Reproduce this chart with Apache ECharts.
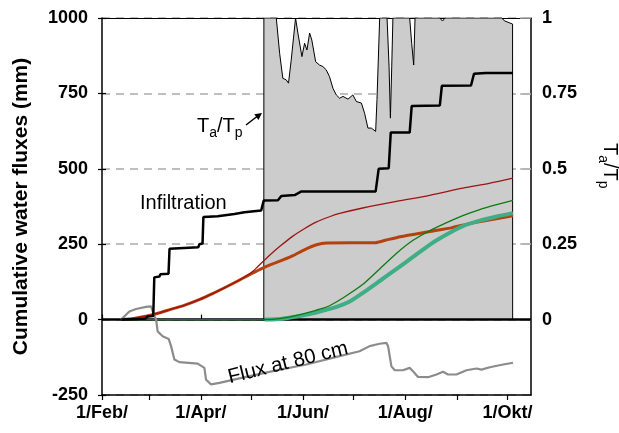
<!DOCTYPE html>
<html><head><meta charset="utf-8">
<script src="https://cdn.jsdelivr.net/npm/echarts@6.0.0/dist/echarts.min.js"></script>
<style>html,body{margin:0;padding:0;background:#fff}#c{width:619px;height:433px}</style>
</head><body><div id="c"></div>
<script>
// ---------- data (x = day of year, Jan 1 = 0) ----------
const monthTickDays = [31, 59, 90, 120, 151, 181, 212, 243, 273];
const labelDays = [31, 90, 151, 212, 273];
const labelTexts = ['1/Feb/', '1/Apr/', '1/Jun/', '1/Aug/', '1/Okt/'];

const infilDays = [42.5,56.9,58.1,61.6,62.2,65.3,65.8,70.7,71.3,88.5,89.1,91.0,91.5,100,110,116,126,127.1,127.5,136,138,146,150,194.3,196.1,202.1,203.3,214.6,215.8,232.6,233.8,251.2,253,260,276.2];
const infilMm   = [0,3,10,12,140,143,150,152,235,240,250,252,340,343,350,356,362,362,395,396,410,413,425,425,500,502,620,620,708,710,775,776,815,818,818];

const eaDays = [42.5,50,58,65,72,80,89,97,105,112,118,125,132,139,145,152,159,165,194,200,209,226.5,240,250,262,276.2];
const eaMm   = [0,4,12,22,34,47,66,86,108,128,146,166,183,198,212,232,248,254,255,263,275,292,305,318,330,344];

const epDays = [42.5,50,58,65,72,80,89,97,105,112,118,121,124,127.4,132,137,144.7,152,158.8,166.8,172.8,186.6,206.7,226.5,246.3,262,276.2];
const epMm   = [0,4,12,22,34,47,66,86,108,128,148,160,176,194,218,242,276,302,323,341,352,370,392,412,436,452,469];

const tpDays = [42.5,128,137,145.9,154.9,162.6,166.8,175.7,186.5,196.7,206.8,216.4,228.4,246.3,256.4,266.5,276.2];
const tpMm   = [0,0,3,12,25,37,46,75,116,168,220,262,300,345,365,381,395];

const taDays = [128,138.7,147.1,154.9,162.6,171,178.8,186.5,196.7,206.8,216.4,226.5,236.6,246.3,256.4,266.5,276.2];
const taMm   = [0,3,10,18,29,42,60,88,128,168,207,248,282,310,328,342,353];

const fluxDays = [42.4,47.3,51.3,57.3,60.3,62.3,63.3,64.2,67.2,70.8,72.2,74.2,77.2,88.1,92.1,93.1,96.1,101.1,113.0,132.9,152.9,172.8,184.7,190.7,196.7,200.7,201.7,203.7,205.7,210.6,214.6,216.6,219.6,225.6,230.6,234.5,237.5,242.5,248.5,254.5,257.5,262.4,270.4,276.3];
const fluxMm   = [0,27,35,42,44,11,0,-39,-55,-64,-88,-132,-141,-146,-160,-199,-215,-210,-195,-171,-149,-121,-105,-88,-80,-77,-88,-155,-168,-168,-160,-171,-190,-191,-182,-173,-182,-182,-168,-162,-166,-158,-149,-143];

const ratioDays = [127.55,127.6,135.0,137.0,138.9,140.9,142.3,143.9,146.5,147.9,150.3,151.9,153.3,154.9,156.2,158.5,160.8,162.8,164.8,166.8,168.8,170.8,172.8,174.8,177.8,180.7,182.8,185.8,187.7,189.7,191.7,194.3,195.1,196.7,201.1,202.3,203.1,203.9,204.6,214.6,215.8,217.0,217.8,232.5,234.2,235.7,269.4,271.4,276.0,276.05];
const ratioVals = [0,1,1,0.883,0.80,0.795,0.784,0.86,1.0,0.95,0.872,0.916,0.894,0.95,0.927,0.855,0.844,0.839,0.828,0.805,0.767,0.745,0.734,0.74,0.731,0.745,0.723,0.718,0.684,0.635,0.635,0.624,0.73,1.0,1.0,0.84,0.668,0.84,1.0,1.0,0.916,0.844,1.0,1.0,0.99,1.0,1.0,0.99,0.98,0];

const leftTicks = [-250, 0, 250, 500, 750, 1000];
const rightTicks = [0, 0.25, 0.5, 0.75, 1];

// ---------- chart ----------
const FONT = '"Liberation Sans", Arial, Helvetica, sans-serif';
const zip = (xs, ys) => xs.map((x, i) => [x, ys[i]]);
const chart = echarts.init(document.getElementById('c'), null, {renderer: 'canvas'});

const mctx = document.createElement('canvas').getContext('2d');
function textW(t, size) { mctx.font = size + 'px ' + FONT; return mctx.measureText(t).width; }
// parts: [text, isSub]; local origin = left / cap-top of main text
function subGroup(parts, x, y, rotation, mainSize, subSize) {
  const children = [];
  let cx = 0;
  const yc = mainSize * 0.365;
  parts.forEach(([t, sub]) => {
    const fs = sub ? subSize : mainSize;
    children.push({type: 'text', x: cx, y: sub ? yc + mainSize * 0.32 : yc,
      style: {text: t, fontSize: fs, fontFamily: FONT, fill: '#000', align: 'left', verticalAlign: 'middle'}});
    cx += textW(t, fs);
  });
  return {type: 'group', x: x, y: y, rotation: rotation || 0, children: children, z: 100};
}

const axisFont = {fontFamily: FONT, fontWeight: 'bold', fontSize: 18, color: '#000'};

const option = {
  animation: false,
  backgroundColor: '#fff',
  grid: {left: 102, right: 88, top: 18, bottom: 38, containLabel: false},
  xAxis: [
    {type: 'value', min: 31, max: 287, position: 'bottom',
     axisLine: {show: true, onZero: false, lineStyle: {color: '#000', width: 1.5}},
     axisTick: {show: true, inside: false, length: 5, customValues: monthTickDays, lineStyle: {color: '#000', width: 1.2}},
     axisLabel: Object.assign({customValues: labelDays, margin: 9,
        formatter: v => { const i = labelDays.findIndex(d => Math.abs(d - v) < 0.01); return i >= 0 ? labelTexts[i] : ''; }}, axisFont),
     splitLine: {show: false}},
    {type: 'value', min: 31, max: 287, position: 'bottom',
     axisLine: {show: false}, axisLabel: {show: false}, splitLine: {show: false},
     axisTick: {show: true, inside: true, length: 5, customValues: labelDays, lineStyle: {color: '#000', width: 1.2}}},
    {type: 'value', min: 31, max: 287, position: 'top',
     axisLine: {show: true, onZero: false, lineStyle: {color: '#000', width: 1}},
     axisTick: {show: false}, axisLabel: {show: false}, splitLine: {show: false}}
  ],
  yAxis: [
    {type: 'value', min: -250, max: 1000, interval: 250, position: 'left',
     name: 'Cumulative water fluxes (mm)', nameLocation: 'middle', nameGap: 70, nameRotate: 90,
     nameTextStyle: {fontFamily: FONT, fontWeight: 'bold', fontSize: 21, color: '#000'},
     axisLine: {show: true, onZero: false, lineStyle: {color: '#000', width: 1.5}},
     axisTick: {show: true, length: 4, lineStyle: {color: '#000', width: 1.2}},
     axisLabel: Object.assign({margin: 14, formatter: v => String(v)}, axisFont),
     splitLine: {show: true, lineStyle: {color: '#aaaaaa', width: 1.5, type: [8, 6]}}},
    {type: 'value', min: -0.25, max: 1, interval: 0.25, position: 'right',
     axisLine: {show: true, onZero: false, lineStyle: {color: '#000', width: 1.5}},
     axisTick: {show: true, inside: true, length: 11, customValues: rightTicks, lineStyle: {color: '#b4b4b4', width: 1.5}},
     axisLabel: Object.assign({margin: 11, customValues: rightTicks, formatter: v => String(+v.toFixed(2))}, axisFont),
     splitLine: {show: false}},
    {type: 'value', min: -250, max: 1000, interval: 250, position: 'left',
     axisLine: {show: false}, axisLabel: {show: false}, splitLine: {show: false},
     axisTick: {show: true, inside: true, length: 4, lineStyle: {color: '#000', width: 1.2}}}
  ],
  series: [
    {name: 'Ta/Tp', type: 'line', xAxisIndex: 0, yAxisIndex: 1, data: zip(ratioDays, ratioVals),
     symbol: 'none', lineStyle: {color: '#000', width: 1}, areaStyle: {color: '#cccccc', opacity: 1, origin: 'auto'}, z: 1},
    {name: 'Ea', type: 'line', xAxisIndex: 0, yAxisIndex: 0, data: zip(eaDays, eaMm), smooth: 0.2,
     symbol: 'none', lineStyle: {color: '#b5420e', width: 3}, z: 3},
    {name: 'Ep', type: 'line', xAxisIndex: 0, yAxisIndex: 0, data: zip(epDays, epMm), smooth: 0.3,
     symbol: 'none', lineStyle: {color: '#9e1414', width: 1.3}, z: 4},
    {name: 'Ta', type: 'line', xAxisIndex: 0, yAxisIndex: 0, data: zip(taDays, taMm), smooth: 0.2,
     symbol: 'none', lineStyle: {color: '#3fae86', width: 4}, z: 5},
    {name: 'Tp', type: 'line', xAxisIndex: 0, yAxisIndex: 0, data: zip(tpDays, tpMm), smooth: 0.2,
     symbol: 'none', lineStyle: {color: '#0e7a12', width: 1.3}, z: 6},
    {name: 'Flux at 80 cm', type: 'line', xAxisIndex: 0, yAxisIndex: 0, data: zip(fluxDays, fluxMm),
     symbol: 'none', lineStyle: {color: '#8c8c8c', width: 2.2}, z: 7},
    {name: 'Infiltration', type: 'line', xAxisIndex: 0, yAxisIndex: 0, data: zip(infilDays, infilMm),
     symbol: 'none', lineStyle: {color: '#000', width: 2.5}, z: 8,
     markLine: {silent: true, symbol: 'none', label: {show: false}, animation: false,
       lineStyle: {color: '#000', width: 2.5, type: 'solid'}, data: [{yAxis: 0}]}}
  ],
  graphic: [
    {type: 'text', x: 140, y: 193, z: 100, style: {text: 'Infiltration', fontSize: 20, fontFamily: FONT, fill: '#000', align: 'left', verticalAlign: 'top'}},
    subGroup([['T', 0], ['a', 1], ['/T', 0], ['p', 1]], 197, 119, 0, 20, 14),
    subGroup([['E', 0], ['p', 1]], 436, 170, 0, 20, 14),
    subGroup([['E', 0], ['a', 1]], 362, 218, 0, 20, 14),
    subGroup([['T', 0], ['p', 1]], 348, 259, 0, 20, 14),
    subGroup([['T', 0], ['a', 1]], 435, 251, 0, 20, 14),
    subGroup([['T', 0], ['a', 1], ['/T', 0], ['p', 1]], 617, 143, -Math.PI / 2, 20, 14),
    {type: 'text', x: 288, y: 363, rotation: 14 * Math.PI / 180, z: 100,
     style: {text: 'Flux at 80 cm', fontSize: 20.5, fontFamily: FONT, fill: '#000', align: 'center', verticalAlign: 'middle'}},
    {type: 'line', z: 100, shape: {x1: 246, y1: 125, x2: 257, y2: 116.5}, style: {stroke: '#000', lineWidth: 1.5}},
    {type: 'polygon', z: 100, shape: {points: [[262, 113], [258.4, 119.9], [254.3, 114.3]]}, style: {fill: '#000'}}
  ]
};
chart.setOption(option);
</script></body></html>
